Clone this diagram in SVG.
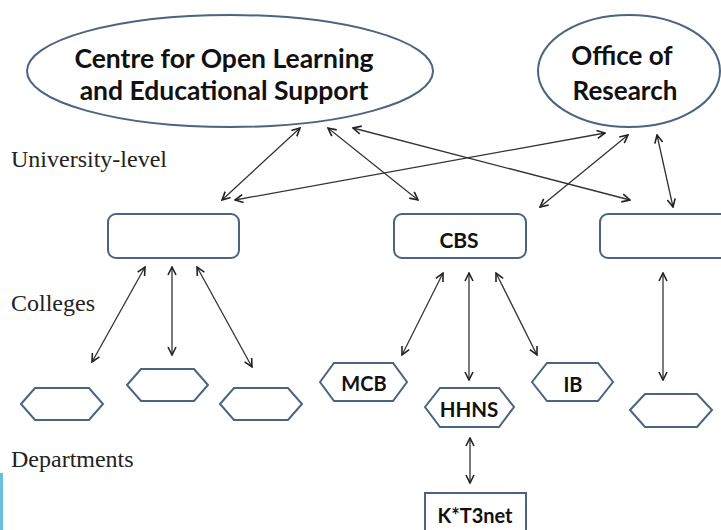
<svg xmlns="http://www.w3.org/2000/svg" width="721" height="530" viewBox="0 0 721 530">
<defs>
<style>
.shape{fill:#fff;stroke:#4a6482;stroke-width:2}
.t{font-family:Lato,"Open Sans","Liberation Sans",sans-serif;font-weight:bold;fill:#111;text-anchor:middle}
.lbl{font-family:"Liberation Serif","Times New Roman",serif;font-size:24px;fill:#222}
.c{stroke:#333;stroke-width:1.3;fill:none;marker-start:url(#ah);marker-end:url(#ah)}
</style>
<marker id="ah" viewBox="0 0 10 10" refX="9" refY="5" markerWidth="10" markerHeight="10" markerUnits="userSpaceOnUse" orient="auto-start-reverse">
<path d="M1,1 L9,5 L1,9" fill="none" stroke="#222" stroke-width="1.6"/>
</marker>
</defs>
<rect width="721" height="530" fill="#fff"/>
<rect x="0" y="473" width="3" height="57" fill="#6bbde0"/>
<text class="lbl" x="11" y="167">University-level</text>
<text class="lbl" x="11" y="311">Colleges</text>
<text class="lbl" x="11" y="467">Departments</text>

<g id="n-cles">
<ellipse class="shape" cx="230" cy="71" rx="203" ry="56"/>
<text class="t" x="224" y="68" font-size="26.5">Centre for Open Learning</text>
<text class="t" x="224" y="100" font-size="26.5">and Educational Support</text>
</g>
<g id="n-oor">
<ellipse class="shape" cx="629" cy="71" rx="91" ry="56"/>
<text class="t" x="622" y="65" font-size="26">Office of</text>
<text class="t" x="625" y="100" font-size="26">Research</text>
</g>
<g id="n-col1"><rect class="shape" x="108" y="214" width="131" height="44" rx="8"/></g>
<g id="n-cbs"><rect class="shape" x="394" y="214" width="132" height="44" rx="8"/>
<text class="t" x="459" y="248" font-size="21">CBS</text></g>
<g id="n-col3"><rect class="shape" x="600" y="214" width="135" height="44" rx="8"/></g>

<g id="n-d1"><polygon class="shape" points="21,404 35,388 89,388 103,404 89,420 35,420"/></g>
<g id="n-d2"><polygon class="shape" points="127,385 141,369 194,369 208,385 194,401 141,401"/></g>
<g id="n-d3"><polygon class="shape" points="220,404 234,388 288,388 302,404 288,420 234,420"/></g>
<g id="n-mcb"><polygon class="shape" points="320,382 334,363 393,363 407,382 393,401 334,401"/>
<text class="t" x="364" y="391" font-size="20">MCB</text></g>
<g id="n-hhns"><polygon class="shape" points="425,407 440,388 499,388 514,407 499,427 440,427"/>
<text class="t" x="469" y="417" font-size="20.5">HHNS</text></g>
<g id="n-ib"><polygon class="shape" points="532,382 547,363 598,363 613,382 598,401 547,401"/>
<text class="t" x="573" y="392" font-size="20">IB</text></g>
<g id="n-d4"><polygon class="shape" points="630,410 645,394 697,394 712,410 697,427 645,427"/></g>
<g id="n-kt3"><rect class="shape" x="425" y="493" width="101" height="45"/>
<text class="t" x="475" y="523" font-size="20">K*T3net</text></g>

<g id="connectors">
<line class="c" x1="300" y1="128" x2="222" y2="200"/>
<line class="c" x1="328" y1="128" x2="418" y2="200"/>
<line class="c" x1="353" y1="128" x2="630" y2="200"/>
<line class="c" x1="235" y1="200" x2="605" y2="133"/>
<line class="c" x1="628" y1="135" x2="540" y2="207"/>
<line class="c" x1="657" y1="135" x2="673" y2="207"/>
<line class="c" x1="145" y1="267" x2="92" y2="362"/>
<line class="c" x1="172" y1="267" x2="172" y2="355"/>
<line class="c" x1="197" y1="267" x2="252" y2="367"/>
<line class="c" x1="443" y1="273" x2="402" y2="355"/>
<line class="c" x1="469" y1="273" x2="469" y2="380"/>
<line class="c" x1="496" y1="273" x2="537" y2="355"/>
<line class="c" x1="663" y1="273" x2="663" y2="380"/>
<line class="c" x1="470" y1="438" x2="470" y2="483"/>
</g>
</svg>
